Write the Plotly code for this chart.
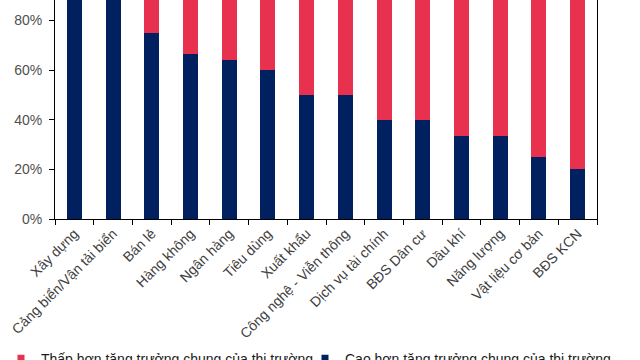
import plotly.graph_objects as go

categories = ["Xây dựng", "Cảng biển/Vận tải biển", "Bán lẻ", "Hàng không", "Ngân hàng",
              "Tiêu dùng", "Xuất khẩu", "Công nghệ - Viễn thông", "Dịch vụ tài chính",
              "BĐS Dân cư", "Dầu khí", "Năng lượng", "Vật liệu cơ bản", "BĐS KCN"]
cao_hon = [1.0, 1.0, 0.75, 0.667, 0.643, 0.60, 0.50, 0.50, 0.40, 0.40, 0.333, 0.333, 0.25, 0.20]
thap_hon = [round(1 - v, 3) for v in cao_hon]
y_ticks = [0, 0.2, 0.4, 0.6, 0.8, 1.0]
y_tick_labels = ["0%", "20%", "40%", "60%", "80%", "100%"]

NAVY = "#002060"
RED = "#E8304F"

fig = go.Figure()
fig.add_bar(x=categories, y=cao_hon, name="Cao hơn tăng trưởng chung của thị trường",
            marker=dict(color=NAVY, line=dict(width=0)), width=0.39, showlegend=False)
fig.add_bar(x=categories, y=thap_hon, name="Thấp hơn tăng trưởng chung của thị trường",
            marker=dict(color=RED, line=dict(width=0)), width=0.39, showlegend=False)
# legend entries (one legend each, placed side by side)
fig.add_scatter(x=[None], y=[None], mode="markers", name="Thấp hơn tăng trưởng chung của thị trường",
                marker=dict(symbol="square", size=7, color=RED), legend="legend")
fig.add_scatter(x=[None], y=[None], mode="markers", name="Cao hơn tăng trưởng chung của thị trường",
                marker=dict(symbol="square", size=7, color=NAVY), legend="legend2")

leg_common = dict(orientation="h", xanchor="left", yanchor="top", y=-0.565,
                  font=dict(size=14, color="#1a1a1a"), bgcolor="rgba(0,0,0,0)")

fig.update_layout(
    barmode="stack",
    width=640, height=360,
    margin=dict(l=55, r=43, t=0, b=141, autoexpand=False),
    paper_bgcolor="white", plot_bgcolor="white",
    font=dict(family="Liberation Sans, Arial, sans-serif", size=14, color="#404040"),
    legend=dict(x=(1 - 55) / 542, **leg_common),
    legend2=dict(x=(305 - 55) / 542, **leg_common),
)
fig.update_xaxes(showline=True, linecolor="black", linewidth=1, mirror=False,
                 ticks="outside", tickson="boundaries", ticklen=5, tickcolor="black",
                 tickangle=-45, tickfont=dict(size=14, color="#404040"))
fig.update_yaxes(range=[0, 0.883], showline=True, linecolor="black", linewidth=1,
                 tickvals=y_ticks, ticktext=y_tick_labels, ticks="outside", ticklen=5,
                 tickcolor="black", showgrid=False, zeroline=False, ticklabelstandoff=4,
                 tickfont=dict(size=14, color="#505050"))
# right border of plot frame
fig.update_layout(yaxis2=dict(overlaying="y", side="right", showline=True, linecolor="black",
                              showticklabels=False, ticks="", showgrid=False, zeroline=False,
                              range=[0, 0.883]))
fig.add_scatter(x=[None], y=[None], yaxis="y2", showlegend=False)

fig.write_html("out.html", config={"displayModeBar": False},
               post_script="document.body.style.margin='0';")
